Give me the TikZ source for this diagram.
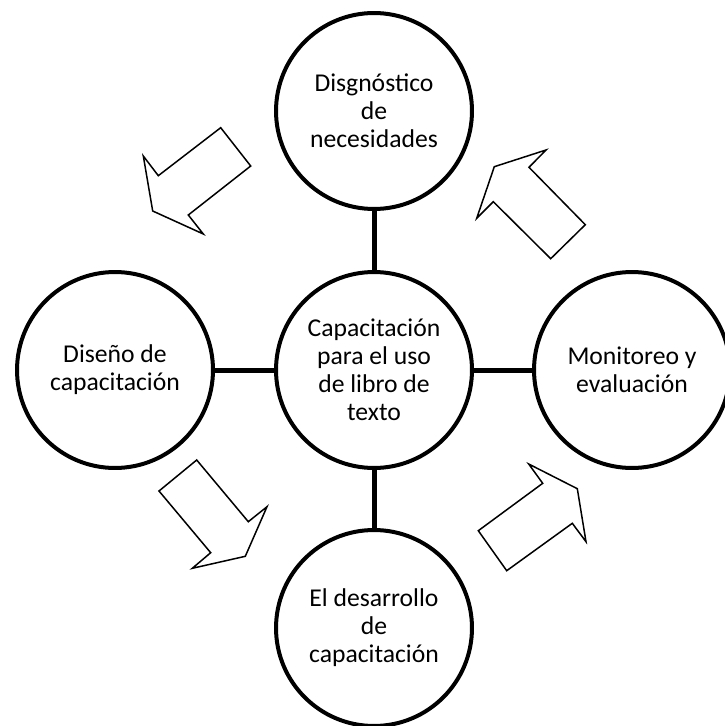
\documentclass[tikz,border=0pt]{standalone}
\usepackage{fontspec}
\setmainfont{Carlito}
\tikzstyle{stage}=[circle,draw,line width=0.08cm,minimum size=3.92cm,inner sep=0pt,align=center,font=\fontsize{14.6pt}{16pt}\selectfont]
\tikzstyle{link} = [draw,line width=0.1cm]
\tikzstyle{blockarrow} = [draw,line width=0.03cm,fill=white,line join=miter]

\begin{document}
\begin{tikzpicture}[x=0.02cm,y=-0.02cm]

    \useasboundingbox (0,0) rectangle (724,726);

     \foreach \x/\y/\name/\txt in {374/370/cap/{Capacitación\\para el uso\\de libro de\\texto},
                                   374/111/diag/{Disgnóstico\\de\\necesidades},
                                   115/370/dise/{Diseño de\\capacitación},
                                   632/370/moni/{Monitoreo y\\evaluación},
                                   374/628/desa/{El desarrollo\\de\\capacitación}}
        \node[stage] (\name) at (\x,\y) {\txt};

    \foreach \source/ \dest in {diag/cap, dise/cap, moni/cap, desa/cap}
        \path[link] (\source) -- (\dest);

    % block arrows round the cycle
    \path[blockarrow] (220.7,127.7) -- (250.7,166) -- (188.3,215) -- (203.3,234) -- (152.7,211) -- (143.3,156) -- (158.3,175.7) -- cycle;
    \path[blockarrow] (196.7,460) -- (159,491) -- (210.7,552.7) -- (192.3,568.3) -- (245.3,556.3) -- (267,506.7) -- (248.3,521.7) -- cycle;
    \path[blockarrow] (528.7,464) -- (542.7,483.3) -- (478.3,530.7) -- (506.7,570.7) -- (572.3,523.3) -- (586,541.7) -- (577.3,488.7) -- cycle;
    \path[blockarrow] (494.3,166.7) -- (546,150) -- (529,167.3) -- (585.3,224.7) -- (550.7,258.7) -- (493.3,201.7) -- (476.7,218.3) -- cycle;

\end{tikzpicture}
\end{document}
